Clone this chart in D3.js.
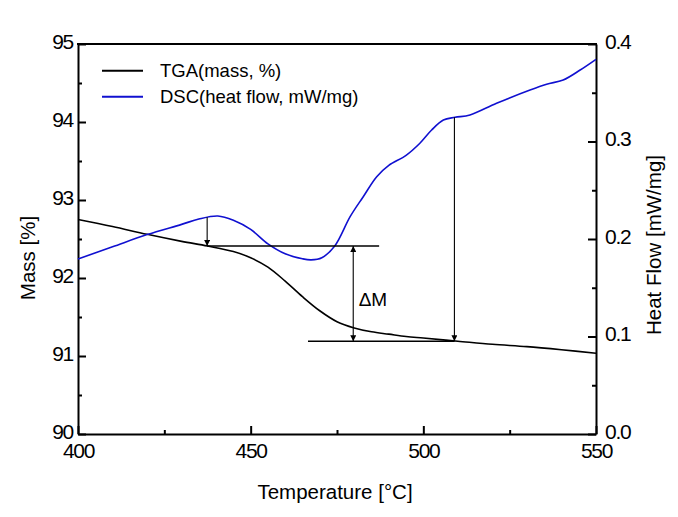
<!DOCTYPE html>
<html>
<head>
<meta charset="utf-8">
<script src="https://cdn.jsdelivr.net/npm/d3@7"></script>
<style>
  html, body { margin: 0; padding: 0; background: #fff; }
  svg { display: block; }
  text { font-family: "Liberation Sans", Arial, sans-serif; fill: #000; }
  .tick text { font-size: 21px; letter-spacing: -1.3px; }
</style>
</head>
<body>
<svg id="chart" width="678" height="517"></svg>
<script>
// ---- data ----
const tgaTemps  = [400, 410, 420, 430, 437.5, 445, 450, 455, 460, 465, 470, 475, 480, 485, 490, 495, 500, 510, 520, 530, 540, 550];
const tgaMass   = [92.75, 92.66, 92.56, 92.47, 92.41, 92.34, 92.26, 92.14, 91.96, 91.76, 91.58, 91.44, 91.36, 91.31, 91.28, 91.25, 91.23, 91.19, 91.15, 91.12, 91.08, 91.035];
const dscTemps  = [400, 410, 420, 430, 435, 440.5, 445, 450, 455, 460, 465, 467.5, 470.6, 474.4, 478.8, 482.6, 486.5, 490, 495, 499, 502.4, 505.8, 509.2, 513.5, 521.2, 530.9, 535.7, 540.5, 545.4, 550];
const dscHeat   = [0.1795, 0.192, 0.2045, 0.2150, 0.2205, 0.2236, 0.2192, 0.2098, 0.1950, 0.1848, 0.1797, 0.1786, 0.1808, 0.1931, 0.2229, 0.2434, 0.2639, 0.2755, 0.2858, 0.2982, 0.3118, 0.3221, 0.3248, 0.3272, 0.3392, 0.3528, 0.3587, 0.3631, 0.3733, 0.3843];
const xTicks     = [400, 450, 500, 550];
const xMinor     = [425, 475, 525];
const massTicks  = [90, 91, 92, 93, 94, 95];
const massMinor  = [90.5, 91.5, 92.5, 93.5, 94.5];
const heatTicks  = [0.0, 0.1, 0.2, 0.3, 0.4];
const heatMinor  = [0.05, 0.15, 0.25, 0.35];
const legendLabels = ["TGA(mass, %)", "DSC(heat flow, mW/mg)"];
// annotation anchors (data units)
const arrow1 = {t: 437.4, heat: 0.2223, mass: 92.41};
const upperLine = {t0: 437.4, t1: 487.2, mass: 92.41};
const lowerLine = {t0: 466.6, t1: 509.0, mass: 91.19};
const deltaArrow = {t: 479.7, m0: 92.41, m1: 91.19};
const arrow2 = {t: 509.0, heat: 0.3250, mass: 91.19};
const deltaLabel = {t: 485.4, mass: 91.73, text: "\u0394M"};

// ---- layout ----
const W = 678, H = 517;
const margin = {left: 78, top: 44, right: 82, bottom: 83};
const iw = W - margin.left - margin.right, ih = H - margin.top - margin.bottom;
const svg = d3.select("#chart");
const g = svg.append("g").attr("transform", `translate(${margin.left},${margin.top})`);

const x = d3.scaleLinear().domain([400, 550]).range([0, iw]);
const yM = d3.scaleLinear().domain([90, 95]).range([ih, 0]);
const yH = d3.scaleLinear().domain([0, 0.4]).range([ih, 0]);

// defs: arrowhead
const defs = svg.append("defs");
defs.append("marker").attr("id", "ah").attr("viewBox", "0 0 10 10")
  .attr("refX", 10).attr("refY", 5).attr("markerWidth", 11).attr("markerHeight", 6)
  .attr("markerUnits", "userSpaceOnUse").attr("orient", "auto-start-reverse")
  .append("path").attr("d", "M0,0 L10,5 L0,10 Z").attr("fill", "#000");

// axes
function styleAxis(sel) {
  sel.select(".domain").attr("stroke-width", 2);
  sel.selectAll(".tick line").attr("stroke-width", 2);
}
const xAx = g.append("g").attr("transform", `translate(0,${ih})`)
  .call(d3.axisBottom(x).tickValues(xTicks).tickSize(-8).tickSizeOuter(0).tickPadding(9).tickFormat(d3.format("d")));
styleAxis(xAx);
const xAxMin = g.append("g").attr("transform", `translate(0,${ih})`)
  .call(d3.axisBottom(x).tickValues(xMinor).tickSize(-4).tickSizeOuter(0).tickFormat(""));
styleAxis(xAxMin); xAxMin.select(".domain").remove();

const lAx = g.append("g")
  .call(d3.axisLeft(yM).tickValues(massTicks).tickSize(-8).tickSizeOuter(0).tickPadding(5).tickFormat(d3.format("d")));
styleAxis(lAx);
lAx.selectAll(".tick text").attr("dy", "0.2em");
const lAxMin = g.append("g")
  .call(d3.axisLeft(yM).tickValues(massMinor).tickSize(-4).tickSizeOuter(0).tickFormat(""));
styleAxis(lAxMin); lAxMin.select(".domain").remove();

const rAx = g.append("g").attr("transform", `translate(${iw},0)`)
  .call(d3.axisRight(yH).tickValues(heatTicks).tickSize(-8).tickSizeOuter(0).tickPadding(9).tickFormat(d3.format(".1f")));
styleAxis(rAx);
rAx.selectAll(".tick text").attr("dy", "0.2em");
const rAxMin = g.append("g").attr("transform", `translate(${iw},0)`)
  .call(d3.axisRight(yH).tickValues(heatMinor).tickSize(-4).tickSizeOuter(0).tickFormat(""));
styleAxis(rAxMin); rAxMin.select(".domain").remove();

// top border
g.append("line").attr("x1", -1).attr("x2", iw + 1).attr("y1", 0).attr("y2", 0)
  .attr("stroke", "#000").attr("stroke-width", 2);

// curves
const tga = tgaTemps.map((t, i) => [t, tgaMass[i]]);
const dsc = dscTemps.map((t, i) => [t, dscHeat[i]]);
g.append("path").datum(tga).attr("fill", "none").attr("stroke", "#000").attr("stroke-width", 1.6)
  .attr("d", d3.line().x(d => x(d[0])).y(d => yM(d[1])).curve(d3.curveCatmullRom.alpha(0.5)));
g.append("path").datum(dsc).attr("fill", "none").attr("stroke", "#1010d0").attr("stroke-width", 1.6)
  .attr("d", d3.line().x(d => x(d[0])).y(d => yH(d[1])).curve(d3.curveCatmullRom.alpha(0.5)));

// annotations
const ann = g.append("g").attr("stroke", "#000").attr("stroke-width", 1.1);
ann.append("line").attr("x1", x(arrow1.t)).attr("x2", x(arrow1.t))
  .attr("y1", yH(arrow1.heat)).attr("y2", yM(arrow1.mass)).attr("marker-end", "url(#ah)");
ann.append("line").attr("x1", x(upperLine.t0)).attr("x2", x(upperLine.t1))
  .attr("y1", yM(upperLine.mass)).attr("y2", yM(upperLine.mass)).attr("stroke-width", 1.4);
ann.append("line").attr("x1", x(lowerLine.t0)).attr("x2", x(lowerLine.t1))
  .attr("y1", yM(lowerLine.mass)).attr("y2", yM(lowerLine.mass)).attr("stroke-width", 1.4);
ann.append("line").attr("x1", x(deltaArrow.t)).attr("x2", x(deltaArrow.t))
  .attr("y1", yM(deltaArrow.m0)).attr("y2", yM(deltaArrow.m1))
  .attr("marker-start", "url(#ah)").attr("marker-end", "url(#ah)");
ann.append("line").attr("x1", x(arrow2.t)).attr("x2", x(arrow2.t))
  .attr("y1", yH(arrow2.heat)).attr("y2", yM(arrow2.mass)).attr("marker-end", "url(#ah)");
g.append("text").attr("x", x(deltaLabel.t)).attr("y", yM(deltaLabel.mass)).attr("dy", "0.35em")
  .attr("text-anchor", "middle").attr("font-size", 19).text(deltaLabel.text);

// legend
const legColors = ["#000", "#1010d0"];
const leg = g.append("g");
legendLabels.forEach((lab, i) => {
  const ly = 26.7 + i * 26;
  leg.append("line").attr("x1", 24).attr("x2", 65).attr("y1", ly).attr("y2", ly)
    .attr("stroke", legColors[i]).attr("stroke-width", 2);
  leg.append("text").attr("x", 82).attr("y", ly).attr("dy", "0.35em")
    .attr("font-size", 18.5).text(lab);
});

// axis titles
svg.append("text").attr("x", margin.left + iw / 2 - 2).attr("y", 499)
  .attr("text-anchor", "middle").attr("font-size", 20.5).text("Temperature [\u00B0C]");
svg.append("text").attr("transform", "translate(28,258) rotate(-90)").attr("dy", "0.35em")
  .attr("text-anchor", "middle").attr("font-size", 20.5).text("Mass [%]");
svg.append("text").attr("transform", "translate(654,245) rotate(-90)").attr("dy", "0.35em")
  .attr("text-anchor", "middle").attr("font-size", 20.5).text("Heat Flow [mW/mg]");
</script>
</body>
</html>
